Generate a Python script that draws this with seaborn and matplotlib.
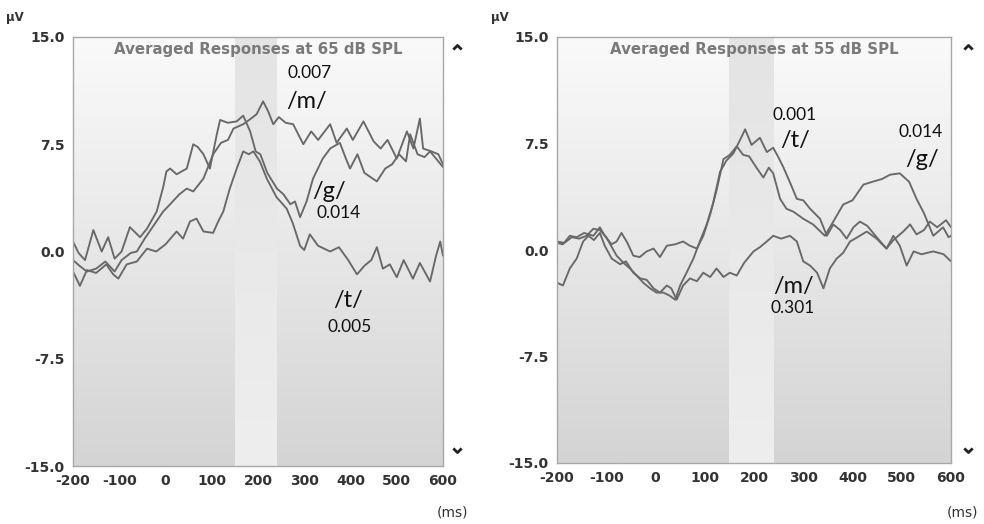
import numpy as np
import pandas as pd
import matplotlib
matplotlib.use('Agg')
import matplotlib.pyplot as plt
import seaborn as sns
from matplotlib.colors import LinearSegmentedColormap

# 65 dB SPL responses (ms, uV)
ms_m65 = [-200,-186,-170,-150,-130,-110,-95,-75,-62,-45,-26,-5,10,30,46,60,82,103,120,135,147,168,185,197,211,222,233,245,260,276,298,315,330,356,370,392,405,428,450,465,480,500,522,536,550,557,575,590,600]
uv_m65 = [-0.6,-1.0,-1.4,-1.2,-0.7,-1.4,-0.6,-0.1,0.0,0.9,1.8,2.8,3.3,4.0,4.4,4.2,5.1,6.8,7.6,7.8,8.6,8.9,9.3,9.6,10.5,9.8,8.9,9.4,9.0,8.9,7.5,8.4,7.8,8.9,7.6,8.6,7.8,9.1,7.7,7.2,7.8,6.5,8.4,7.2,9.3,7.2,7.0,6.8,6.1]

ms_g65 = [-200,-188,-174,-156,-138,-124,-110,-95,-77,-55,-40,-19,-5,2,10,24,46,60,70,82,96,111,118,135,154,168,183,195,205,220,241,255,270,280,291,305,319,340,356,377,390,399,415,430,457,475,490,505,520,529,545,560,572,585,600]
uv_g65 = [0.7,-0.1,-0.6,1.5,0.0,1.0,-0.5,0.0,1.7,1.0,1.6,2.8,4.5,5.6,5.8,5.4,5.8,7.5,7.3,6.8,5.8,8.2,9.2,9.0,9.1,9.5,8.4,7.0,6.8,5.5,4.4,4.0,3.3,3.5,2.4,3.5,5.1,6.5,7.2,7.6,6.5,5.8,6.8,5.5,4.9,5.8,6.1,6.8,6.3,8.2,6.8,6.6,7.0,6.5,5.9]

ms_t65 = [-200,-185,-170,-150,-128,-113,-102,-84,-62,-40,-20,0,24,38,53,67,82,103,114,125,139,154,168,180,190,204,219,240,262,275,291,300,312,330,356,375,395,414,430,445,457,470,485,500,515,535,550,572,585,594,600]
uv_t65 = [-1.4,-2.4,-1.3,-1.5,-0.9,-1.6,-1.9,-0.9,-0.7,0.2,0.0,0.5,1.4,0.9,2.1,2.3,1.4,1.3,2.1,2.8,4.4,5.8,7.0,6.8,7.0,6.3,5.1,3.8,3.0,2.0,0.4,0.1,1.2,0.4,0.0,0.3,-0.6,-1.6,-1.0,-0.6,0.3,-1.2,-0.9,-1.8,-0.6,-1.9,-0.8,-2.1,-0.3,0.7,-0.3]

# 55 dB SPL responses
ms_m55 = [-200,-188,-174,-160,-147,-136,-125,-113,-103,-89,-72,-60,-45,-31,-18,-4,9,23,32,43,56,70,84,97,111,124,138,151,165,180,199,212,226,239,255,273,287,300,314,328,341,354,368,381,395,410,429,449,469,483,496,510,524,540,564,585,600]
uv_m55 = [-2.3,-2.5,-1.3,-0.6,0.6,1.0,0.7,1.2,0.3,-0.6,-1.0,-0.8,-1.6,-2.0,-2.1,-2.7,-3.0,-2.5,-2.7,-3.5,-2.5,-2.0,-2.2,-1.6,-1.9,-1.3,-1.9,-1.6,-1.8,-0.9,-0.1,0.2,0.6,1.0,0.8,1.0,0.6,-0.8,-1.1,-1.6,-2.7,-1.3,-0.6,-0.2,0.6,0.9,1.3,0.8,0.1,1.0,0.3,-1.1,-0.1,-0.3,-0.1,-0.3,-0.8]

ms_t55 = [-200,-185,-170,-155,-140,-126,-113,-100,-79,-65,-52,-38,-25,-11,2,16,28,40,50,63,77,90,104,117,131,144,158,171,182,195,212,226,239,250,260,275,287,300,314,334,348,361,375,388,402,415,430,449,469,483,503,517,530,545,557,572,590,600]
uv_t55 = [0.6,0.5,0.9,0.8,1.0,1.5,1.4,0.9,-0.4,-0.9,-1.3,-1.8,-2.3,-2.7,-3.0,-3.0,-3.2,-3.5,-2.5,-1.6,-0.6,0.6,1.8,3.3,5.5,6.3,6.8,7.7,8.5,7.4,7.9,6.9,7.2,6.5,5.8,4.6,3.6,3.5,2.9,2.2,1.0,1.8,1.4,0.8,1.6,2.0,1.7,0.9,0.1,0.7,1.3,1.8,1.1,1.4,2.0,1.6,2.1,1.6]

ms_g55 = [-200,-188,-174,-160,-145,-126,-113,-103,-89,-79,-69,-57,-45,-32,-18,-4,9,23,40,56,70,84,97,111,124,138,151,165,178,190,205,219,230,239,253,266,280,300,320,344,361,381,400,422,440,460,476,496,515,530,545,564,584,595,600]
uv_g55 = [0.5,0.4,1.0,0.9,1.2,1.0,1.6,1.0,0.4,0.6,1.2,0.5,-0.4,-0.5,-0.1,0.1,-0.5,0.3,0.4,0.6,0.3,0.1,1.0,2.5,4.2,6.4,6.7,7.3,6.7,6.6,5.8,5.1,5.8,5.4,3.6,2.9,2.7,2.2,1.8,1.0,2.0,3.2,3.5,4.6,4.8,5.0,5.3,5.4,4.8,3.6,2.6,1.0,1.6,0.9,1.0]

x_ticks = [-200, -100, 0, 100, 200, 300, 400, 500, 600]
x_labels = ['-200', '-100', '0', '100', '200', '300', '400', '500', '600']
y_ticks = [15, 7.5, 0, -7.5, -15]
y_labels = ['15.0', '7.5', '0.0', '-7.5', '-15.0']
window = (150, 240)


def long_form(curves):
    frames = []
    for name, t, v in curves:
        frames.append(pd.DataFrame({'ms': t, 'uV': v, 'phoneme': name}))
    return pd.concat(frames, ignore_index=True)


df65 = long_form([('m', ms_m65, uv_m65), ('g', ms_g65, uv_g65), ('t', ms_t65, uv_t65)])
df55 = long_form([('m', ms_m55, uv_m55), ('t', ms_t55, uv_t55), ('g', ms_g55, uv_g55)])

sns.set_style('white')
plt.rcParams['font.family'] = ['DejaVu Sans']

W, H = 984, 524
fig = plt.figure(figsize=(W / 100, H / 100), dpi=100)
ax1 = fig.add_axes([73 / W, 1 - 466 / H, 370 / W, 429 / H])
ax2 = fig.add_axes([557 / W, 1 - 463 / H, 394 / W, 426 / H])

bg = LinearSegmentedColormap.from_list('bg', ['#d4d4d4', '#fafafa'])
band = LinearSegmentedColormap.from_list('band', ['#eeeeee', '#e4e4e4'])
grad = np.linspace(0, 1, 256).reshape(-1, 1)

panels = [(ax1, df65, 'Averaged Responses at 65 dB SPL'),
          (ax2, df55, 'Averaged Responses at 55 dB SPL')]

for ax, df, title in panels:
    ax.imshow(grad, extent=[-200, 600, -15, 15], origin='lower', aspect='auto', cmap=bg, zorder=0)
    ax.imshow(grad, extent=[window[0], window[1], -15, 15], origin='lower', aspect='auto', cmap=band, zorder=0)
    sns.lineplot(data=df, x='ms', y='uV', units='phoneme', estimator=None,
                 color='#686868', lw=1.35, ax=ax, zorder=2)
    ax.set_xlim(-200, 600)
    ax.set_ylim(-15, 15)
    ax.set_xticks(x_ticks)
    ax.set_xticklabels(x_labels, fontweight='bold')
    ax.set_yticks(y_ticks)
    ax.set_yticklabels(y_labels, fontweight='bold')
    ax.tick_params(direction='out', length=4, width=1, color='#9a9a9a',
                   labelsize=10, labelcolor='#333333', pad=2)
    ax.set_xlabel('')
    ax.set_ylabel('')
    for s in ax.spines.values():
        s.set_color('#a8a8a8')
        s.set_linewidth(1.0)
    ax.text(0.5, 0.988, title, transform=ax.transAxes, ha='center', va='top',
            fontsize=10.8, fontweight='bold', color='#7a7a7a')

# phoneme labels and p-values
lab = dict(family=['Lato', 'DejaVu Sans'], color='#111111', ha='center', va='center')
ax1.text(312, 12.45, '0.007', fontsize=12.5, **lab)
ax1.text(304, 10.5, '/m/', fontsize=17, **lab)
ax1.text(354, 4.2, '/g/', fontsize=17, **lab)
ax1.text(375, 2.7, '0.014', fontsize=12.5, **lab)
ax1.text(395, -3.4, '/t/', fontsize=17, **lab)
ax1.text(399, -5.3, '0.005', fontsize=12.5, **lab)

ax2.text(283, 9.5, '0.001', fontsize=12.5, **lab)
ax2.text(283, 7.7, '/t/', fontsize=17, **lab)
ax2.text(539, 8.3, '0.014', fontsize=12.5, **lab)
ax2.text(541, 6.4, '/g/', fontsize=17, **lab)
ax2.text(281, -2.6, '/m/', fontsize=17, **lab)
ax2.text(279, -4.1, '0.301', fontsize=12.5, **lab)

# units and scroll markers
for px in (15, 500):
    fig.text(px / W, 1 - 17 / H, 'µV', ha='center', va='center', fontsize=8.5,
             fontweight='bold', color='#333333')
for px in (452, 962):
    fig.text(px / W, 1 - 512 / H, '(ms)', ha='center', va='center', fontsize=10,
             color='#333333')

up = [(-1, -0.5), (0, 0.5), (1, -0.5)]
down = [(-1, 0.5), (0, -0.5), (1, 0.5)]
for px in (457, 968):
    for py, shape in ((47, up), (450, down)):
        fig.lines.append(plt.Line2D([px / W], [1 - py / H], transform=fig.transFigure,
                                    marker=shape, ms=6, mfc='none', mec='#222222',
                                    mew=2.0, ls='none'))

fig.savefig('out.png', dpi=100)
